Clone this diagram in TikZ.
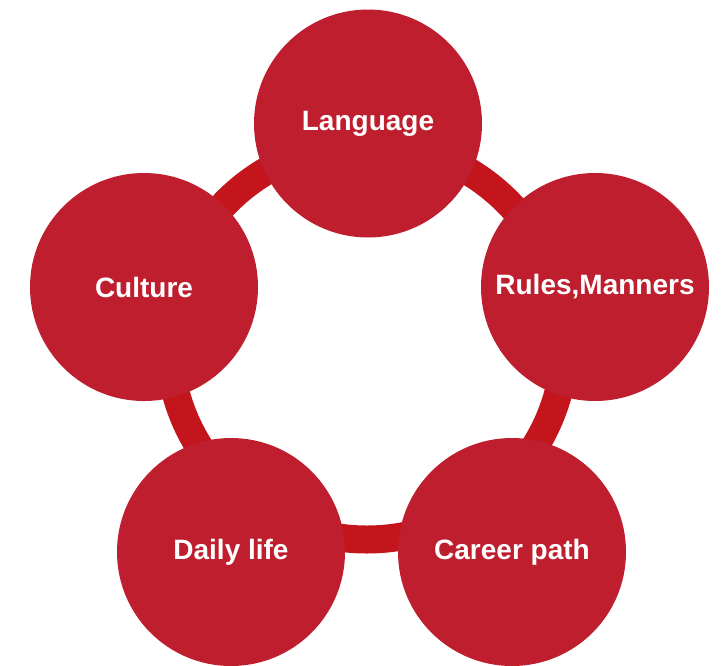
\documentclass[tikz,border=0pt]{standalone}
\usepackage{fontspec}
\setmainfont{Liberation Sans}
\definecolor{nodered}{RGB}{190,30,45}
\definecolor{ringred}{RGB}{196,20,28}
\begin{document}
\begin{tikzpicture}[x=1pt,y=-1pt,
  topic/.style={circle,fill=nodered,minimum size=228pt,inner sep=0pt,text=white,
    font=\fontsize{28}{32}\selectfont\bfseries},
  ringline/.style={draw=ringred,line width=28pt}]
\useasboundingbox (0,0) rectangle (722,665);
\coordinate (rc) at (367,341.5);
\draw[ringline] (rc) circle[radius=198pt];
\node[topic] (lang) at (368,123.5) {Language};
\node[topic] (rules) at (595,287) {Rules,Manners};
\node[topic] (career) at (512,552) {Career path};
\node[topic] (daily) at (231,552) {Daily life};
\node[topic] (culture) at (144,287) {Culture};
\end{tikzpicture}
\end{document}
